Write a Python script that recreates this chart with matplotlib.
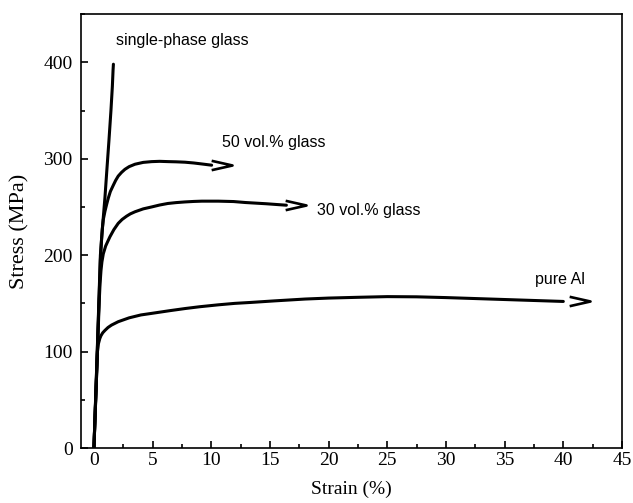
import matplotlib
matplotlib.use("Agg")
import matplotlib.pyplot as plt
from matplotlib.path import Path
from matplotlib.ticker import MultipleLocator

# ---- data ----
glass_strain = [0, 0.28, 0.55, 0.75, 0.94, 1.1, 1.28, 1.45, 1.57, 1.63, 1.66]
glass_stress = [0, 100, 200, 232, 260, 288, 319, 350, 375, 392, 398]

g50_strain = [0, 0.3, 0.55, 0.64, 0.71, 0.8, 0.94, 1.08, 1.22, 1.4, 1.65, 1.85, 2.07, 2.35,
              2.64, 3.0, 3.5, 4.2, 4.92, 5.6, 6.34, 7.0, 7.76, 8.5, 9.18, 10.03]
g50_stress = [0, 105, 195, 215, 227, 237, 245.5, 252.5, 259, 266, 272.5, 277.5, 282, 285.8,
              289, 291.8, 294.3, 296.2, 297, 297.3, 297, 296.8, 296.4, 295.6, 294.6, 293.3]
g50_tip = (11.8, 293.3)

g30_strain = [0, 0.3, 0.45, 0.52, 0.6, 0.68, 0.8, 1.0, 1.15, 1.36, 1.7, 2.07, 2.4, 2.78, 3.1,
              3.5, 4.2, 4.92, 5.6, 6.3, 7.0, 7.76, 8.5, 9.2, 10.6, 11.9, 12.9, 14.7, 15.6, 16.4]
g30_stress = [0, 100, 152, 170, 184, 193, 201.5, 209.5, 213.5, 219, 226.5, 233, 237, 240.4,
              242.8, 245, 248, 250, 252, 253.6, 254.5, 255.2, 255.7, 256, 256, 255.6, 254.6,
              253.3, 252.5, 251.8]
g30_tip = (18.1, 252)

al_strain = [0, 0.3, 0.38, 0.5, 0.6, 0.75, 0.94, 1.2, 1.5, 2.07, 3.0, 4.0, 4.9, 6.5, 7.8,
             9.0, 10.6, 12.0, 13.4, 15.4, 18.0, 20.0, 22.5, 25.0, 27.5, 30.0, 32.5, 35.0,
             37.5, 40.0]
al_stress = [0, 100, 108, 113.5, 116.5, 119.5, 122, 125, 127.5, 131, 135, 138, 139.6, 142.5,
             144.7, 146.5, 148.5, 150, 151, 152.6, 154.5, 155.5, 156.3, 157, 156.8, 156, 155,
             154, 153, 152]
al_tip = (42.3, 152)

labels = ["single-phase glass", "50 vol.% glass", "30 vol.% glass", "pure Al"]
label_pos = [(1.9, 423), (10.9, 316.5), (19.0, 246.5), (37.6, 174.5)]

x_ticks = [0, 5, 10, 15, 20, 25, 30, 35, 40, 45]
y_ticks = [0, 100, 200, 300, 400]

# ---- figure ----
fig = plt.figure(figsize=(6.33, 5.03), dpi=100)
ax = fig.add_axes([0.128, 0.1093, 0.8546, 0.8627])

lw = 2.2
for xs, ys in [(glass_strain, glass_stress), (g50_strain, g50_stress),
               (g30_strain, g30_stress), (al_strain, al_stress)]:
    ax.plot(xs, ys, color="black", lw=lw, solid_capstyle="round", solid_joinstyle="round")

chevron = Path([(-2, 0.45), (0, 0), (-2, -0.45)],
               [Path.MOVETO, Path.LINETO, Path.LINETO])
for tx, ty in [g50_tip, g30_tip, al_tip]:
    ax.plot([tx], [ty], marker=chevron, markersize=30, markerfacecolor="none",
            markeredgecolor="black", markeredgewidth=1.9, linestyle="none")

for txt, (x, y) in zip(labels, label_pos):
    ax.text(x, y, txt, fontsize=11.5, family="Liberation Sans", va="center", ha="left")

ax.set_xlim(-1.1, 45)
ax.set_ylim(0, 450)
ax.set_xticks(x_ticks)
ax.set_yticks(y_ticks)
ax.xaxis.set_minor_locator(MultipleLocator(2.5))
ax.yaxis.set_minor_locator(MultipleLocator(50))
ax.tick_params(which="both", direction="in", top=False, right=False, width=1.2)
ax.tick_params(which="major", length=5)
ax.tick_params(which="minor", length=3)
ax.tick_params(axis="x", pad=3)
ax.tick_params(axis="y", pad=6)
for lab in ax.get_xticklabels() + ax.get_yticklabels():
    lab.set_family("Liberation Serif")
    lab.set_fontsize(14)
for sp in ax.spines.values():
    sp.set_linewidth(1.2)

ax.set_xlabel("Strain (%)", family="Liberation Serif", fontsize=14, labelpad=8)
ax.set_ylabel("Stress (MPa)", family="Liberation Serif", fontsize=16, labelpad=10)

fig.savefig("out.png", dpi=100)
